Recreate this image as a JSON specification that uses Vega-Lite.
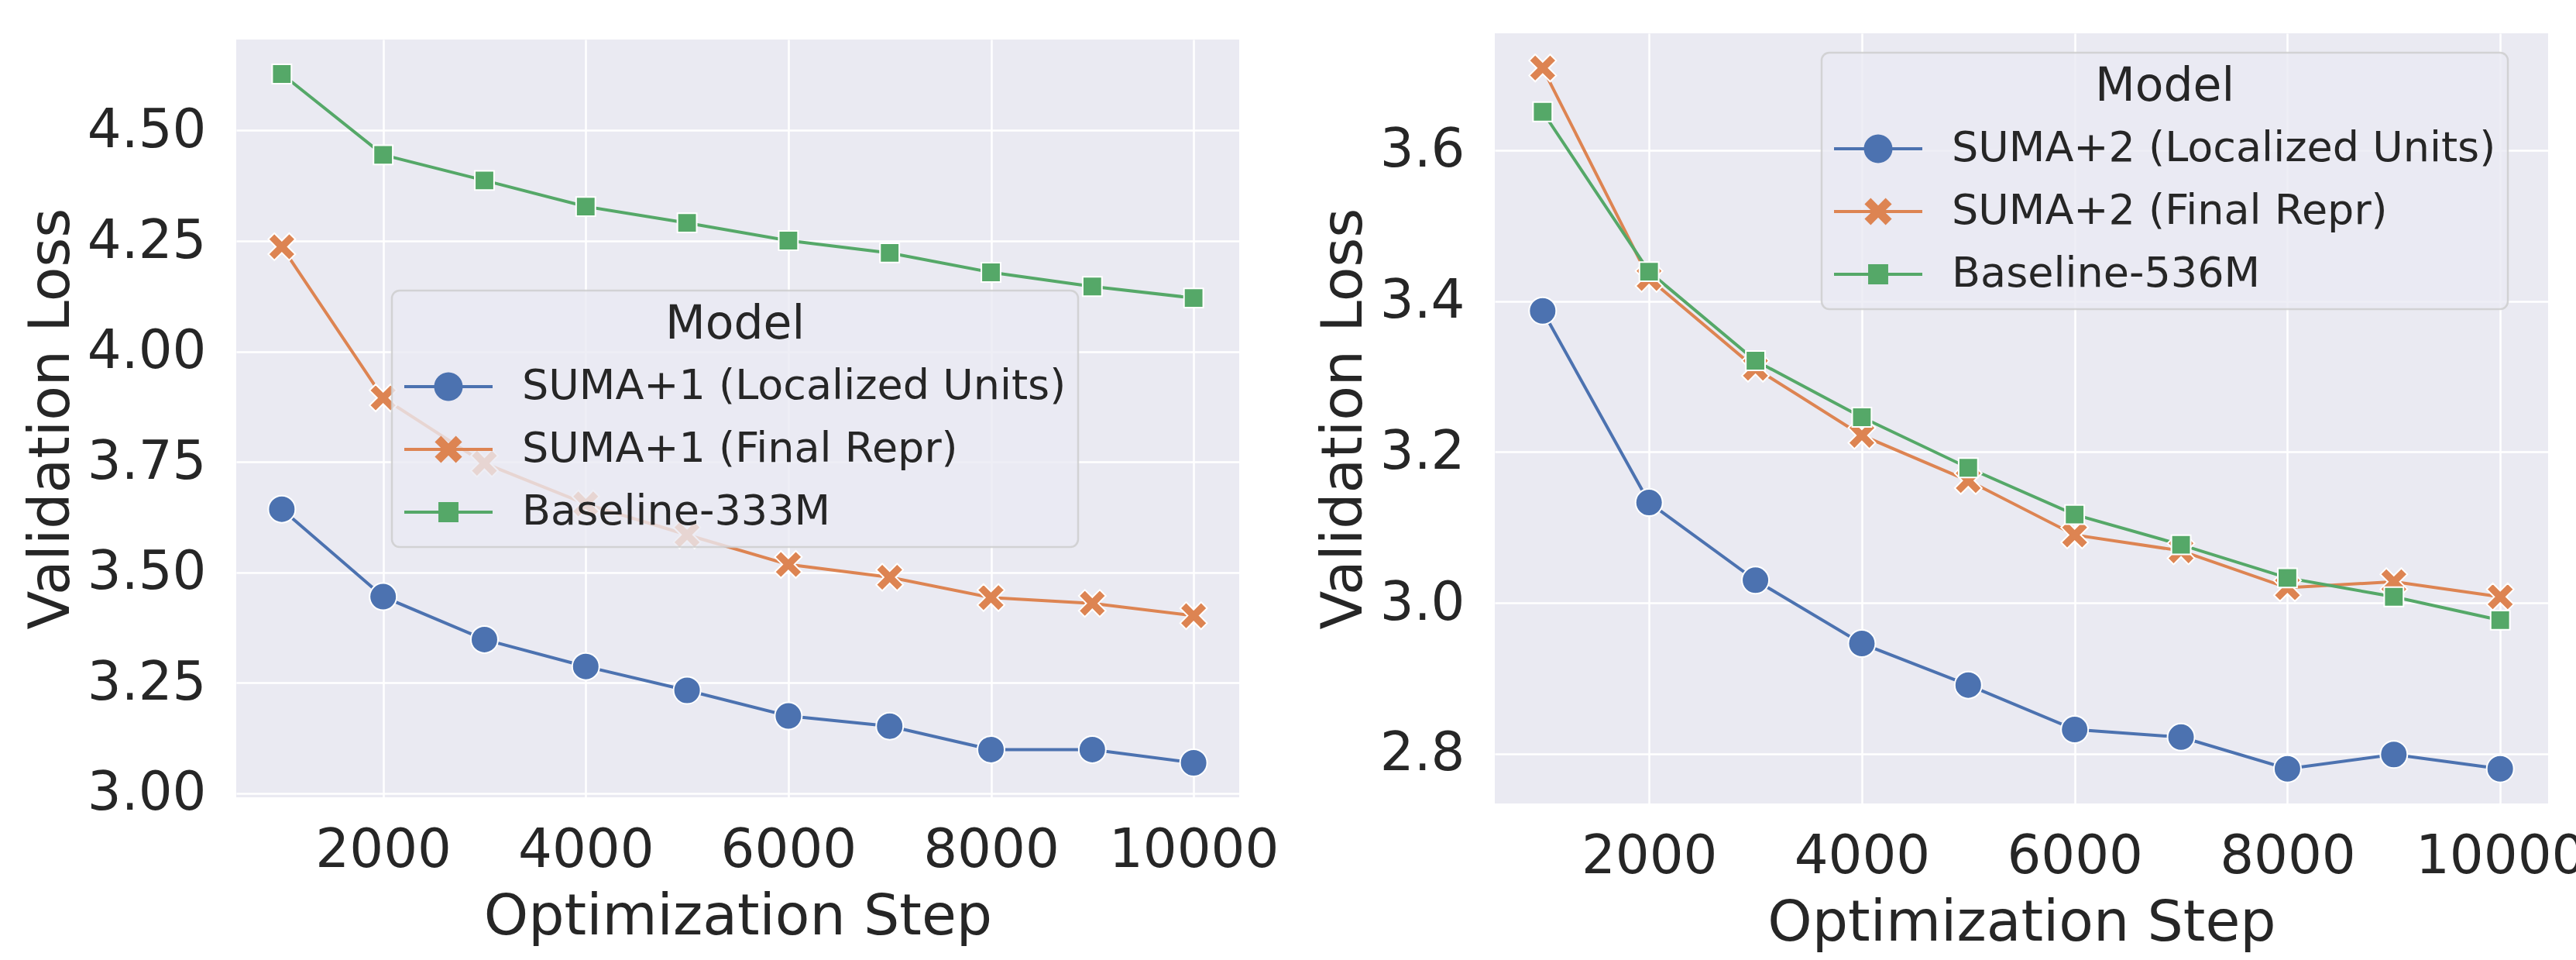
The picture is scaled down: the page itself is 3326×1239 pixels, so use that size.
{
  "$schema": "https://vega.github.io/schema/vega-lite/v6.json",
  "background": "white",
  "padding": {"left": 30, "top": 43, "right": 0, "bottom": 10},
  "config": {
    "font": "DejaVu Sans",
    "view": {"fill": "#EAEAF2", "stroke": null},
    "axis": {
      "domain": false, "ticks": false, "tickSize": 0, "labelLimit": 0, "titleLimit": 0,
      "labelFontSize": 69, "labelColor": "#262626", "labelFont": "DejaVu Sans",
      "titleFontSize": 73, "titleColor": "#262626", "titleFont": "DejaVu Sans", "titleFontWeight": "normal",
      "gridColor": "#FFFFFF", "gridWidth": 2.5, "gridOpacity": 1
    },
    "axisX": {"labelPadding": 34, "titlePadding": 15},
    "axisY": {"labelPadding": 39, "titlePadding": 9},
    "legend": {
      "orient": "none",
      "titleFontSize": 60, "titleFontWeight": "normal", "titleColor": "#262626", "titleAnchor": "middle", "titlePadding": 19, "titleLimit": 2000,
      "labelFontSize": 54, "labelColor": "#262626", "labelLimit": 2000,
      "symbolSize": 1369, "symbolStrokeWidth": 0, "symbolOpacity": 1,
      "clipHeight": 60, "rowPadding": 21, "padding": 15,
      "fillColor": "rgba(234,234,242,0.8)", "strokeColor": "rgba(204,204,204,0.8)", "strokeWidth": 2.5, "cornerRadius": 10,
      "symbolOffset": 31, "labelOffset": 68
    }
  },
  "datasets": {
    "d": [
      {"panel": "L", "Model": "SUMA+1 (Localized Units)", "step": 1000, "loss": 3.643},
      {"panel": "L", "Model": "SUMA+1 (Localized Units)", "step": 2000, "loss": 3.445},
      {"panel": "L", "Model": "SUMA+1 (Localized Units)", "step": 3000, "loss": 3.348},
      {"panel": "L", "Model": "SUMA+1 (Localized Units)", "step": 4000, "loss": 3.287},
      {"panel": "L", "Model": "SUMA+1 (Localized Units)", "step": 5000, "loss": 3.233},
      {"panel": "L", "Model": "SUMA+1 (Localized Units)", "step": 6000, "loss": 3.175},
      {"panel": "L", "Model": "SUMA+1 (Localized Units)", "step": 7000, "loss": 3.152},
      {"panel": "L", "Model": "SUMA+1 (Localized Units)", "step": 8000, "loss": 3.099},
      {"panel": "L", "Model": "SUMA+1 (Localized Units)", "step": 9000, "loss": 3.099},
      {"panel": "L", "Model": "SUMA+1 (Localized Units)", "step": 10000, "loss": 3.069},
      {"panel": "L", "Model": "SUMA+1 (Final Repr)", "step": 1000, "loss": 4.237},
      {"panel": "L", "Model": "SUMA+1 (Final Repr)", "step": 2000, "loss": 3.895},
      {"panel": "L", "Model": "SUMA+1 (Final Repr)", "step": 3000, "loss": 3.747},
      {"panel": "L", "Model": "SUMA+1 (Final Repr)", "step": 4000, "loss": 3.655},
      {"panel": "L", "Model": "SUMA+1 (Final Repr)", "step": 5000, "loss": 3.585},
      {"panel": "L", "Model": "SUMA+1 (Final Repr)", "step": 6000, "loss": 3.518},
      {"panel": "L", "Model": "SUMA+1 (Final Repr)", "step": 7000, "loss": 3.489},
      {"panel": "L", "Model": "SUMA+1 (Final Repr)", "step": 8000, "loss": 3.443},
      {"panel": "L", "Model": "SUMA+1 (Final Repr)", "step": 9000, "loss": 3.430},
      {"panel": "L", "Model": "SUMA+1 (Final Repr)", "step": 10000, "loss": 3.402},
      {"panel": "L", "Model": "Baseline-333M", "step": 1000, "loss": 4.628},
      {"panel": "L", "Model": "Baseline-333M", "step": 2000, "loss": 4.445},
      {"panel": "L", "Model": "Baseline-333M", "step": 3000, "loss": 4.387},
      {"panel": "L", "Model": "Baseline-333M", "step": 4000, "loss": 4.328},
      {"panel": "L", "Model": "Baseline-333M", "step": 5000, "loss": 4.291},
      {"panel": "L", "Model": "Baseline-333M", "step": 6000, "loss": 4.251},
      {"panel": "L", "Model": "Baseline-333M", "step": 7000, "loss": 4.223},
      {"panel": "L", "Model": "Baseline-333M", "step": 8000, "loss": 4.179},
      {"panel": "L", "Model": "Baseline-333M", "step": 9000, "loss": 4.147},
      {"panel": "L", "Model": "Baseline-333M", "step": 10000, "loss": 4.121},
      {"panel": "R", "Model": "SUMA+2 (Localized Units)", "step": 1000, "loss": 3.387},
      {"panel": "R", "Model": "SUMA+2 (Localized Units)", "step": 2000, "loss": 3.133},
      {"panel": "R", "Model": "SUMA+2 (Localized Units)", "step": 3000, "loss": 3.030},
      {"panel": "R", "Model": "SUMA+2 (Localized Units)", "step": 4000, "loss": 2.946},
      {"panel": "R", "Model": "SUMA+2 (Localized Units)", "step": 5000, "loss": 2.891},
      {"panel": "R", "Model": "SUMA+2 (Localized Units)", "step": 6000, "loss": 2.832},
      {"panel": "R", "Model": "SUMA+2 (Localized Units)", "step": 7000, "loss": 2.822},
      {"panel": "R", "Model": "SUMA+2 (Localized Units)", "step": 8000, "loss": 2.780},
      {"panel": "R", "Model": "SUMA+2 (Localized Units)", "step": 9000, "loss": 2.799},
      {"panel": "R", "Model": "SUMA+2 (Localized Units)", "step": 10000, "loss": 2.780},
      {"panel": "R", "Model": "SUMA+2 (Final Repr)", "step": 1000, "loss": 3.709},
      {"panel": "R", "Model": "SUMA+2 (Final Repr)", "step": 2000, "loss": 3.430},
      {"panel": "R", "Model": "SUMA+2 (Final Repr)", "step": 3000, "loss": 3.311},
      {"panel": "R", "Model": "SUMA+2 (Final Repr)", "step": 4000, "loss": 3.222},
      {"panel": "R", "Model": "SUMA+2 (Final Repr)", "step": 5000, "loss": 3.162},
      {"panel": "R", "Model": "SUMA+2 (Final Repr)", "step": 6000, "loss": 3.090},
      {"panel": "R", "Model": "SUMA+2 (Final Repr)", "step": 7000, "loss": 3.069},
      {"panel": "R", "Model": "SUMA+2 (Final Repr)", "step": 8000, "loss": 3.020},
      {"panel": "R", "Model": "SUMA+2 (Final Repr)", "step": 9000, "loss": 3.028},
      {"panel": "R", "Model": "SUMA+2 (Final Repr)", "step": 10000, "loss": 3.008},
      {"panel": "R", "Model": "Baseline-536M", "step": 1000, "loss": 3.651},
      {"panel": "R", "Model": "Baseline-536M", "step": 2000, "loss": 3.439},
      {"panel": "R", "Model": "Baseline-536M", "step": 3000, "loss": 3.321},
      {"panel": "R", "Model": "Baseline-536M", "step": 4000, "loss": 3.246},
      {"panel": "R", "Model": "Baseline-536M", "step": 5000, "loss": 3.179},
      {"panel": "R", "Model": "Baseline-536M", "step": 6000, "loss": 3.117},
      {"panel": "R", "Model": "Baseline-536M", "step": 7000, "loss": 3.077},
      {"panel": "R", "Model": "Baseline-536M", "step": 8000, "loss": 3.033},
      {"panel": "R", "Model": "Baseline-536M", "step": 9000, "loss": 3.008},
      {"panel": "R", "Model": "Baseline-536M", "step": 10000, "loss": 2.977}
    ]
  },
  "spacing": 330,
  "bounds": "flush",
  "center": true,
  "hconcat": [
    {
      "width": 1295,
      "height": 978,
      "data": {"name": "d"},
      "transform": [{"filter": "datum.panel == 'L'"}],
      "encoding": {
        "x": {"field": "step", "type": "quantitative", "scale": {"domain": [550, 10450], "nice": false, "zero": false},
              "axis": {"values": [2000, 4000, 6000, 8000, 10000], "format": "d", "title": "Optimization Step"}},
        "y": {"field": "loss", "type": "quantitative", "scale": {"domain": [2.991, 4.706], "nice": false, "zero": false},
              "axis": {"values": [3, 3.25, 3.5, 3.75, 4, 4.25, 4.5], "format": ".2f", "title": "Validation Loss"}}
      },
      "layer": [
        {
          "mark": {"type": "line", "strokeWidth": 4},
          "encoding": {
            "color": {"field": "Model", "type": "nominal", "legend": null,
                      "scale": {"domain": ["SUMA+1 (Localized Units)", "SUMA+1 (Final Repr)", "Baseline-333M"], "range": ["#4C72B0", "#DD8452", "#55A868"]}}
          }
        },
        {
          "mark": {"type": "point", "filled": true, "size": 1225, "stroke": "#FFFFFF", "strokeWidth": 2, "opacity": 1},
          "encoding": {
            "color": {"field": "Model", "type": "nominal", "legend": null,
                      "scale": {"domain": ["SUMA+1 (Localized Units)", "SUMA+1 (Final Repr)", "Baseline-333M"], "range": ["#4C72B0", "#DD8452", "#55A868"]}},
            "shape": {"field": "Model", "type": "nominal", "legend": null,
                      "scale": {"domain": ["SUMA+1 (Localized Units)", "SUMA+1 (Final Repr)", "Baseline-333M"],
                                "range": ["circle", "M1,-0.55L0.45,0L1,0.55L0.55,1L0,0.45L-0.55,1L-1,0.55L-0.45,0L-1,-0.55L-0.55,-1L0,-0.45L0.55,-1Z", "M-0.71,-0.71H0.71V0.71H-0.71Z"]}}
          }
        },
        {
          "mark": {"type": "point", "filled": true, "size": 1369, "opacity": 0},
          "encoding": {
            "color": {"field": "Model", "type": "nominal",
                      "scale": {"domain": ["SUMA+1 (Localized Units)", "SUMA+1 (Final Repr)", "Baseline-333M"], "range": ["#4C72B0", "#DD8452", "#55A868"]},
                      "legend": {"title": "Model", "legendX": 201, "legendY": 324, "symbolOpacity": 1}},
            "shape": {"field": "Model", "type": "nominal",
                      "scale": {"domain": ["SUMA+1 (Localized Units)", "SUMA+1 (Final Repr)", "Baseline-333M"],
                                "range": [
                                  "M-3.08,-0.11H-0.98V0.11H-3.08Z M0.98,-0.11H3.08V0.11H0.98Z M1,0A1,1,0,1,1,-1,0A1,1,0,1,1,1,0Z",
                                  "M-3.08,-0.11H-0.42V0.11H-3.08Z M0.42,-0.11H3.08V0.11H0.42Z M0.95,-0.52L0.42,0L0.95,0.52L0.52,0.95L0,0.42L-0.52,0.95L-0.95,0.52L-0.42,0L-0.95,-0.52L-0.52,-0.95L0,-0.42L0.52,-0.95Z",
                                  "M-3.08,-0.11H-0.7V0.11H-3.08Z M0.7,-0.11H3.08V0.11H0.7Z M-0.7,-0.7H0.7V0.7H-0.7Z"]},
                      "legend": {"title": "Model", "legendX": 201, "legendY": 324, "symbolOpacity": 1}}
          }
        }
      ],
      "resolve": {"scale": {"color": "independent", "shape": "independent"}}
    },
    {
      "width": 1360,
      "height": 994,
      "data": {"name": "d"},
      "transform": [{"filter": "datum.panel == 'R'"}],
      "encoding": {
        "x": {"field": "step", "type": "quantitative", "scale": {"domain": [550, 10450], "nice": false, "zero": false},
              "axis": {"values": [2000, 4000, 6000, 8000, 10000], "format": "d", "title": "Optimization Step"}},
        "y": {"field": "loss", "type": "quantitative", "scale": {"domain": [2.734, 3.755], "nice": false, "zero": false},
              "axis": {"values": [2.8, 3.0, 3.2, 3.4, 3.6], "format": ".1f", "title": "Validation Loss"}}
      },
      "layer": [
        {
          "mark": {"type": "line", "strokeWidth": 4},
          "encoding": {
            "color": {"field": "Model", "type": "nominal", "legend": null,
                      "scale": {"domain": ["SUMA+2 (Localized Units)", "SUMA+2 (Final Repr)", "Baseline-536M"], "range": ["#4C72B0", "#DD8452", "#55A868"]}}
          }
        },
        {
          "mark": {"type": "point", "filled": true, "size": 1225, "stroke": "#FFFFFF", "strokeWidth": 2, "opacity": 1},
          "encoding": {
            "color": {"field": "Model", "type": "nominal", "legend": null,
                      "scale": {"domain": ["SUMA+2 (Localized Units)", "SUMA+2 (Final Repr)", "Baseline-536M"], "range": ["#4C72B0", "#DD8452", "#55A868"]}},
            "shape": {"field": "Model", "type": "nominal", "legend": null,
                      "scale": {"domain": ["SUMA+2 (Localized Units)", "SUMA+2 (Final Repr)", "Baseline-536M"],
                                "range": ["circle", "M1,-0.55L0.45,0L1,0.55L0.55,1L0,0.45L-0.55,1L-1,0.55L-0.45,0L-1,-0.55L-0.55,-1L0,-0.45L0.55,-1Z", "M-0.71,-0.71H0.71V0.71H-0.71Z"]}}
          }
        },
        {
          "mark": {"type": "point", "filled": true, "size": 1369, "opacity": 0},
          "encoding": {
            "color": {"field": "Model", "type": "nominal",
                      "scale": {"domain": ["SUMA+2 (Localized Units)", "SUMA+2 (Final Repr)", "Baseline-536M"], "range": ["#4C72B0", "#DD8452", "#55A868"]},
                      "legend": {"title": "Model", "legendX": 422, "legendY": 25, "symbolOpacity": 1}},
            "shape": {"field": "Model", "type": "nominal",
                      "scale": {"domain": ["SUMA+2 (Localized Units)", "SUMA+2 (Final Repr)", "Baseline-536M"],
                                "range": [
                                  "M-3.08,-0.11H-0.98V0.11H-3.08Z M0.98,-0.11H3.08V0.11H0.98Z M1,0A1,1,0,1,1,-1,0A1,1,0,1,1,1,0Z",
                                  "M-3.08,-0.11H-0.42V0.11H-3.08Z M0.42,-0.11H3.08V0.11H0.42Z M0.95,-0.52L0.42,0L0.95,0.52L0.52,0.95L0,0.42L-0.52,0.95L-0.95,0.52L-0.42,0L-0.95,-0.52L-0.52,-0.95L0,-0.42L0.52,-0.95Z",
                                  "M-3.08,-0.11H-0.7V0.11H-3.08Z M0.7,-0.11H3.08V0.11H0.7Z M-0.7,-0.7H0.7V0.7H-0.7Z"]},
                      "legend": {"title": "Model", "legendX": 422, "legendY": 25, "symbolOpacity": 1}}
          }
        }
      ],
      "resolve": {"scale": {"color": "independent", "shape": "independent"}}
    }
  ]
}
